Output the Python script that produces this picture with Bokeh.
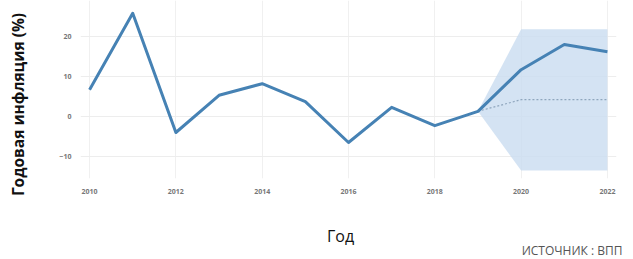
import math
from bokeh.plotting import figure
from bokeh.models import Range1d, FixedTicker
from bokeh.layouts import row, column
from bokeh.core.properties import value
from bokeh.embed import file_html
from bokeh.resources import INLINE

years = [2010, 2011, 2012, 2013, 2014, 2015, 2016, 2017, 2018, 2019, 2020, 2021, 2022]
inflation = [6.7, 25.8, -4.0, 5.3, 8.2, 3.7, -6.5, 2.3, -2.3, 1.3, 11.7, 18.0, 16.2]

fc_years = [2019, 2020, 2021, 2022]
fc_base = [1.3, 4.2, 4.2, 4.2]
fc_upper = [1.3, 21.8, 21.8, 21.8]
fc_lower = [1.3, -13.5, -13.5, -13.5]

x_ticks = [2010, 2012, 2014, 2016, 2018, 2020, 2022]
y_ticks = [-10, 0, 10, 20]

y_title = "Годовая инфляция (%)"
x_title = "Год"
source_note = "ИСТОЧНИК : ВПП"

FONT = "Open Sans"


def blank(w, h):
    f = figure(width=w, height=h, output_backend="svg", toolbar_location=None,
               x_range=Range1d(0, w), y_range=Range1d(h, 0),
               min_border=0, min_border_left=0, min_border_right=0,
               min_border_top=0, min_border_bottom=0)
    f.axis.visible = False
    f.grid.visible = False
    f.outline_line_color = None
    return f


# main chart
p = figure(width=598, height=198, output_backend="svg", toolbar_location=None,
           x_range=Range1d(2009.79, 2022.21), y_range=Range1d(-15.5, 29),
           min_border_left=45, min_border_right=17, min_border_top=0, min_border_bottom=20)
p.outline_line_color = None

p.varea(x=fc_years, y1=fc_lower, y2=fc_upper, fill_color="#c9dcf0", fill_alpha=0.8)
p.line(fc_years, fc_base, line_color="#8fa6bd", line_width=1.2, line_dash="2 2")
p.line(years, inflation, line_color="#4682b4", line_width=3, line_join="round")

for ax in (p.xaxis[0], p.yaxis[0]):
    ax.axis_line_color = None
    ax.major_tick_line_color = None
    ax.minor_tick_line_color = None
    ax.major_label_text_font = FONT
    ax.major_label_text_font_size = "7px"
    ax.major_label_text_font_style = "bold"
    ax.major_label_text_color = "#777777"

p.xaxis.ticker = FixedTicker(ticks=x_ticks)
p.yaxis.ticker = FixedTicker(ticks=y_ticks)
p.xaxis.major_label_standoff = 4
p.yaxis.major_label_standoff = 3

p.xgrid.grid_line_color = "#f0f0f0"
p.ygrid.grid_line_color = "#ededed"
p.xgrid.ticker = FixedTicker(ticks=x_ticks)
p.ygrid.ticker = FixedTicker(ticks=y_ticks)

# y title panel (left of chart)
ly = blank(35, 198)
ly.text(x=[17], y=[104], text=[y_title], angle=math.pi / 2,
        text_align="center", text_baseline="middle", text_font=value(FONT),
        text_font_size="15.5px", text_font_style="bold", text_color="#111111")

# bottom panel (full width): x title and source
lb = blank(633, 61)
lb.text(x=[340], y=[37], text=[x_title], text_align="center", text_baseline="middle",
        text_font=value(FONT), text_font_size="16px", text_color="#111111")
lb.text(x=[622], y=[52], text=[source_note], text_align="right", text_baseline="middle",
        text_font=value(FONT), text_font_size="12px", text_color="#555555")

layout = column(row(column(ly, spacing=0), p, spacing=0), lb, spacing=0)

open("out.html", "w").write(file_html(layout, INLINE))
